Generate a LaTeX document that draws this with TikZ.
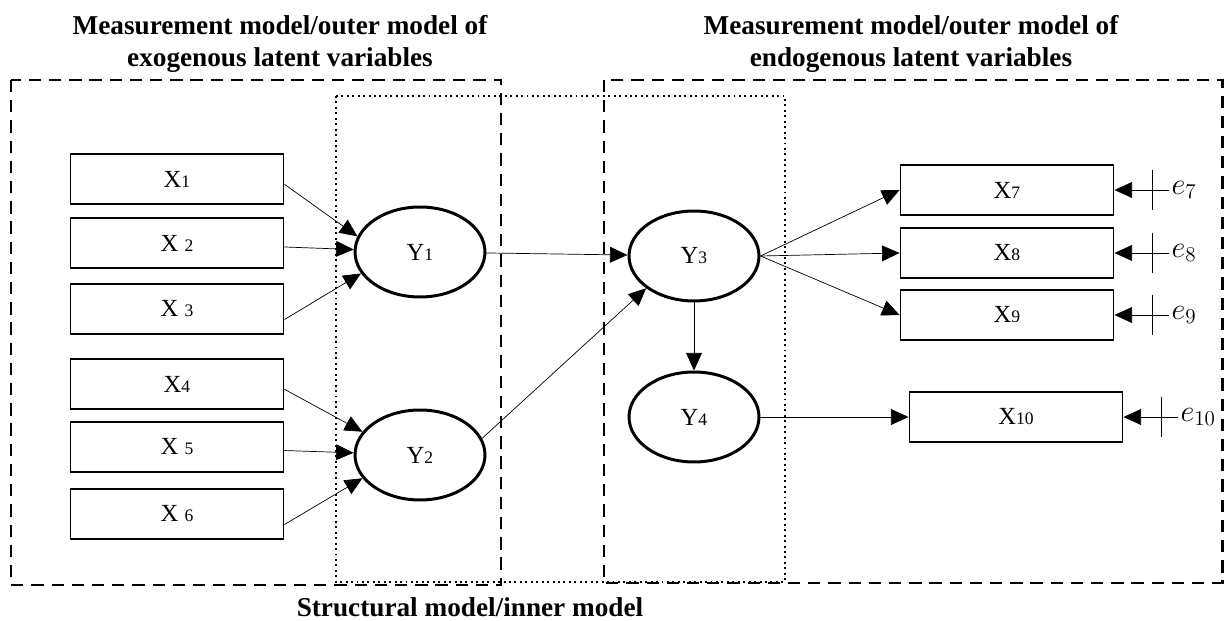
\documentclass[tikz,border=0pt]{standalone}
\usepackage{fontspec}
\setmainfont{Liberation Serif}
\usetikzlibrary{arrows.meta,positioning,shapes.geometric}

\newcommand{\ix}[1]{{\fontsize{10}{10}\selectfont #1}}

\begin{document}
\begin{tikzpicture}[x=0.02cm,y=-0.02cm,
  >={Triangle[length=10pt,width=9pt]},
  obs/.style={draw,line width=1.1pt,minimum width=4.26cm,minimum height=1cm,inner sep=0pt,font=\fontsize{14}{14}\selectfont},
  lat/.style={draw,ellipse,line width=1.7pt,minimum width=2.6cm,minimum height=1.8cm,inner sep=0pt,font=\fontsize{14}{14}\selectfont},
  err/.style={inner sep=1pt,font=\fontsize{17}{17}\selectfont},
  outer/.style={line width=1.7pt,dash pattern=on 7pt off 4.5pt},
  inner/.style={line width=1.1pt,dotted},
  title/.style={align=center,font=\bfseries\fontsize{15.5}{18}\selectfont}]
  \useasboundingbox (0,0) rectangle (1225,621);

  % frames
  \draw[outer] (11,80) rectangle (501,585);
  \draw[outer] (604,80) rectangle (1222,583);
  \draw[inner] (336,96) rectangle (785,582);

  \node[title] (exo) at (280,44) {Measurement model/outer model of\\exogenous latent variables};
  \node[title] (endo) at (911,44) {Measurement model/outer model of\\endogenous latent variables};
  \node[title] (struct) at (470,607) {Structural model/inner model};

  % indicators
  \node[obs] (X1) at (177,179) {X\ix{1}};
  \node[obs] (X2) at (177,243) {X \ix{2}};
  \node[obs] (X3) at (177,309) {X \ix{3}};
  \node[obs] (X4) at (177,384) {X\ix{4}};
  \node[obs] (X5) at (177,447) {X \ix{5}};
  \node[obs] (X6) at (177,514) {X \ix{6}};
  \node[obs] (X7) at (1007,190) {X\ix{7}};
  \node[obs] (X8) at (1007,253) {X\ix{8}};
  \node[obs] (X9) at (1007,315) {X\ix{9}};
  \node[obs] (X10) at (1016,417) {X\ix{10}};

  % latent variables
  \node[lat] (Y1) at (420,252) {Y\ix{1}};
  \node[lat] (Y2) at (420,455) {Y\ix{2}};
  \node[lat] (Y3) at (694,256) {Y\ix{3}};
  \node[lat] (Y4) at (694,417) {Y\ix{4}};

  \draw[thin,->] ([yshift=-3pt]X1.east) -- (Y1.166);
  \draw[thin,->] (X2) -- (Y1);
  \draw[thin,->] ([yshift=-6pt]X3.east) -- (Y1.200);
  \draw[thin,->] ([yshift=-3pt]X4.east) -- (Y2.158);
  \draw[thin,->] (X5) -- (Y2);
  \draw[thin,->] ([yshift=-6pt]X6.east) -- (Y2.202);

  \draw[thin,->] (Y1) -- (Y3);
  \draw[thin,->] (Y2.15) -- (Y3.214);
  \draw[thin,->] (Y3) -- (Y4);

  \draw[thin,->] (Y3.east) -- (X7.west);
  \draw[thin,->] (Y3.east) -- (X8.west);
  \draw[thin,->] (Y3.east) -- (X9.west);
  \draw[thin,->] (Y4) -- (X10);

  % error terms
  \foreach \i in {7,...,10}{
    \node[err,right=1.1cm of X\i] (e\i) {$e_{\i}$};
    \draw[thin,->] (e\i.west) -- (e\i.west -| X\i.east);
    \draw[thin] ([xshift=-10pt]e\i.west) +(0,-20) -- +(0,20);
  }
\end{tikzpicture}
\end{document}
